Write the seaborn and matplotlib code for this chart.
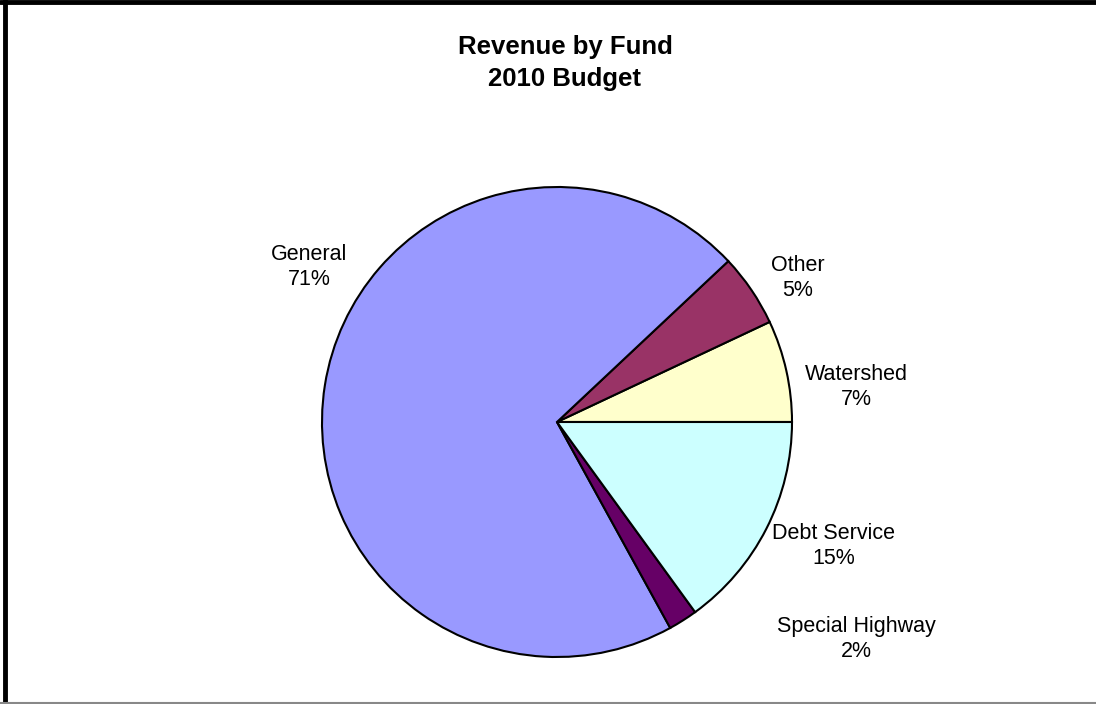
import matplotlib
matplotlib.use("Agg")
import matplotlib.pyplot as plt
import seaborn as sns
from matplotlib.lines import Line2D

# Fund revenue shares (percent), listed counter-clockwise from 3 o'clock
funds = ["Watershed", "Other", "General", "Special Highway", "Debt Service"]
shares = [7, 5, 71, 2, 15]
colors = ["#FFFFCC", "#993366", "#9999FF", "#660066", "#CCFFFF"]

title_lines = ["Revenue by Fund", "2010 Budget"]

sns.set_theme(style="white")
plt.rcParams["font.family"] = ["Liberation Sans", "DejaVu Sans"]

W, H = 1096, 704
fig = plt.figure(figsize=(W / 100, H / 100), dpi=100)
fig.patch.set_facecolor("white")

# Axes spanning the whole canvas, one data unit per pixel (y grows upwards)
ax = fig.add_axes([0, 0, 1, 1])
ax.set_aspect("equal")

cx, cy, r = 557, H - 422, 235
wedges, _ = ax.pie(
    shares,
    colors=colors,
    startangle=0,
    counterclock=True,
    center=(cx, cy),
    radius=r,
    wedgeprops=dict(edgecolor="black", linewidth=1.5),
    frame=True,
)
ax.set_xlim(0, W)
ax.set_ylim(0, H)
ax.axis("off")

# Category labels with percentages, placed outside the pie
label_pos = {
    "General": (309, 267),
    "Other": (798, 278),
    "Watershed": (856, 387),
    "Debt Service": (834, 546),
    "Special Highway": (856, 639),
}
for name, val in zip(funds, shares):
    px, py = label_pos[name]
    ax.text(px, H - py, f"{name}\n{val}%", ha="center", va="center",
            fontsize=15.5, color="black", linespacing=1.2)

ax.text(565, H - 63, "\n".join(title_lines), ha="center", va="center",
        fontsize=18.5, fontweight="bold", color="black", linespacing=1.45)

# Chart-area border
fig.add_artist(Line2D([0, 1], [1 - 2 / H, 1 - 2 / H], transform=fig.transFigure,
                      color="black", linewidth=3.5))
fig.add_artist(Line2D([5 / W, 5 / W], [0, 1], transform=fig.transFigure,
                      color="black", linewidth=3.5))
fig.add_artist(Line2D([0, 1], [1.5 / H, 1.5 / H], transform=fig.transFigure,
                      color="#888888", linewidth=1.5))

fig.savefig("out.png", dpi=100, facecolor="white")
